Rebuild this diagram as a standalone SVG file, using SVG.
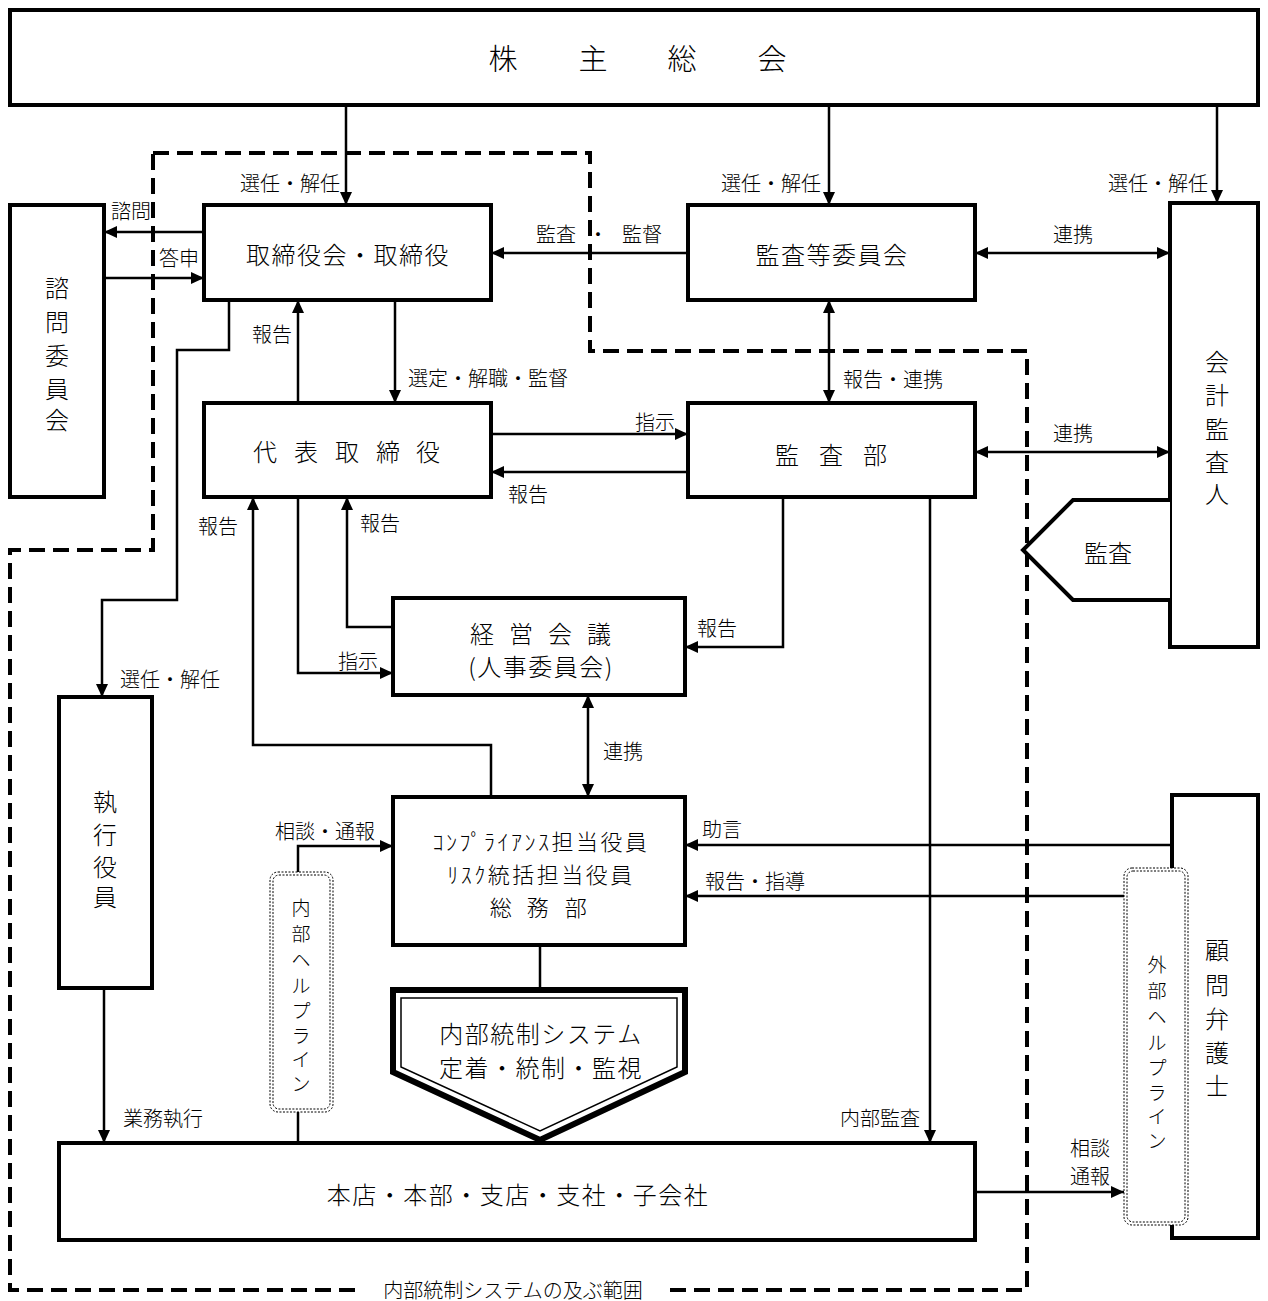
<svg xmlns="http://www.w3.org/2000/svg" width="1268" height="1301" viewBox="0 0 1268 1301">
<style>
text{font-family:"Noto Sans CJK JP","Noto Sans CJK SC",sans-serif;font-weight:300;fill:#000;dominant-baseline:central;text-anchor:middle}
.box{fill:#fff;stroke:#000;stroke-width:4}
.lbl{font-size:20px}
.big{font-size:24px;letter-spacing:1.5px}
.cmp{font-size:22px;letter-spacing:2.5px}
.vbig{font-size:24px}
.vsm{font-size:19px}
.con{fill:none;stroke:#000;stroke-width:2.5}
.arr{marker-end:url(#ah)}
.dbl{marker-start:url(#ah);marker-end:url(#ah)}
.dot{fill:#fff;stroke:#000;stroke-width:1;stroke-dasharray:2 1.5}
.dot2{fill:none;stroke:#000;stroke-width:1;stroke-dasharray:2 1.5}
</style>
<defs>
<marker id="ah" markerUnits="userSpaceOnUse" markerWidth="13" markerHeight="12" refX="13" refY="6" orient="auto-start-reverse">
<path d="M0,0 L13,6 L0,12 z" fill="#000"/>
</marker>
</defs>
<rect width="1268" height="1301" fill="#fff"/>

<g id="range">
<path d="M153,153 H590 V351 H1027 V1290 H670 M355,1290 H10 V550 H153 V153" fill="none" stroke="#000" stroke-width="4" stroke-dasharray="16 8"/>
<text class="lbl" x="513" y="1289">内部統制システムの及ぶ範囲</text>
</g>

<g id="connectors">
<path class="con arr" d="M346,105 V205"/>
<path class="con arr" d="M829,105 V205"/>
<path class="con arr" d="M1217,105 V203"/>
<path class="con arr" d="M204,232 H104"/>
<path class="con arr" d="M104,278 H204"/>
<path class="con arr" d="M688,253 H491"/>
<path class="con dbl" d="M975,253 H1170"/>
<path class="con dbl" d="M829,300 V403"/>
<path class="con dbl" d="M975,452 H1170"/>
<path class="con arr" d="M298,403 V300"/>
<path class="con arr" d="M395,300 V403"/>
<path class="con arr" d="M491,434 H688"/>
<path class="con arr" d="M688,472 H491"/>
<path class="con arr" d="M229,300 V350 H177 V600 H102 V697"/>
<path class="con arr" d="M104,988 V1143"/>
<path class="con arr" d="M491,797 V745 H253 V497"/>
<path class="con arr" d="M393,627 H347 V497"/>
<path class="con arr" d="M298,497 V673 H393"/>
<path class="con arr" d="M783,497 V647 H685"/>
<path class="con dbl" d="M588,695 V797"/>
<path class="con arr" d="M298,872 V846 H393"/>
<path class="con" d="M298,1112 V1143"/>
<path class="con arr" d="M1170,845 H685"/>
<path class="con arr" d="M1124,896 H685"/>
<path class="con" d="M540,945 V990"/>
<path class="con arr" d="M930,497 V1143"/>
<path class="con arr" d="M975,1192 H1124"/>
<text class="lbl" x="290" y="182">選任・解任</text>
<text class="lbl" x="771" y="182">選任・解任</text>
<text class="lbl" x="1158" y="182">選任・解任</text>
<text class="lbl" x="131" y="210">諮問</text>
<text class="lbl" x="179" y="257">答申</text>
<text class="lbl" x="556" y="233">監査</text>
<text class="lbl" x="598" y="233">・</text>
<text class="lbl" x="642" y="233">監督</text>
<text class="lbl" x="1073" y="233">連携</text>
<text class="lbl" x="272" y="333">報告</text>
<text class="lbl" x="488" y="377">選定・解職・監督</text>
<text class="lbl" x="893" y="378">報告・連携</text>
<text class="lbl" x="655" y="421">指示</text>
<text class="lbl" x="1073" y="432">連携</text>
<text class="lbl" x="528" y="493">報告</text>
<text class="lbl" x="218" y="525">報告</text>
<text class="lbl" x="380" y="522">報告</text>
<text class="lbl" x="717" y="627">報告</text>
<text class="lbl" x="358" y="660">指示</text>
<text class="lbl" x="170" y="678">選任・解任</text>
<text class="lbl" x="623" y="750">連携</text>
<text class="lbl" x="325" y="830">相談・通報</text>
<text class="lbl" x="722" y="828">助言</text>
<text class="lbl" x="755" y="880">報告・指導</text>
<text class="lbl" x="163" y="1117">業務執行</text>
<text class="lbl" x="880" y="1117">内部監査</text>
<text class="lbl" x="1090" y="1147">相談</text>
<text class="lbl" x="1090" y="1175">通報</text>
</g>

<g id="shareholders">
<rect class="box" x="10" y="10" width="1248" height="95"/>
<text style="font-size:29px" x="503 593 682 772" y="57">株主総会</text>
</g>

<g id="advisory">
<rect class="box" x="10" y="205" width="94" height="292"/>
<text class="vbig" x="57 57 57 57 57" y="286 320 354 387 418">諮問委員会</text>
</g>

<g id="board">
<rect class="box" x="204" y="205" width="287" height="95"/>
<text class="big" x="348" y="253">取締役会・取締役</text>
</g>

<g id="auditcommittee">
<rect class="box" x="688" y="205" width="287" height="95"/>
<text class="big" x="832" y="253">監査等委員会</text>
</g>

<g id="accountingauditor">
<rect class="box" x="1170" y="203" width="88" height="444"/>
<text class="vbig" x="1217 1217 1217 1217 1217" y="360 393 427 460 492">会計監査人</text>
</g>

<g id="audit">
<path d="M1170,500 H1073 L1023,550 L1073,600 H1170" fill="#fff" stroke="#000" stroke-width="4"/>
<text class="vbig" x="1108" y="551">監査</text>
</g>

<g id="representative">
<rect class="box" x="204" y="403" width="287" height="94"/>
<text class="vbig" x="265 306 347 388 428" y="450">代表取締役</text>
</g>

<g id="auditdept">
<rect class="box" x="688" y="403" width="287" height="94"/>
<text class="vbig" x="787 831 875" y="453">監査部</text>
</g>

<g id="management">
<rect class="box" x="393" y="598" width="292" height="97"/>
<text class="vbig" x="482 521 560 599" y="632">経営会議</text>
<text class="big" x="541" y="665">(人事委員会)</text>
</g>

<g id="executive">
<rect class="box" x="59" y="697" width="93" height="291"/>
<text class="vbig" x="105 105 105 105" y="800 833 865 895">執行役員</text>
</g>

<g id="compliance">
<rect class="box" x="393" y="797" width="292" height="148"/>
<text class="cmp" x="541" y="840">ｺﾝﾌﾟﾗｲｱﾝｽ担当役員</text>
<text class="cmp" x="541" y="873">ﾘｽｸ統括担当役員</text>
<text class="cmp" x="502 539 577" y="906">総務部</text>
</g>

<g id="internalhelpline">
<rect class="dot" x="270" y="872" width="63" height="240" rx="8"/>
<rect class="dot2" x="273" y="875" width="57" height="234" rx="6"/>
<text class="vsm" x="301 301 301 301 301 301 301 301" y="906 932 958 984 1009 1034 1058 1082">内部ヘルプライン</text>
</g>

<g id="system">
<polygon points="393,990 685,990 685,1072 540,1140 393,1072" fill="#fff" stroke="#000" stroke-width="6"/>
<polygon points="401,998 677,998 677,1067 540,1131 401,1067" fill="none" stroke="#000" stroke-width="1.5"/>
<text class="big" x="541" y="1032">内部統制システム</text>
<text class="big" x="541" y="1066">定着・統制・監視</text>
</g>

<g id="lawyer">
<rect class="box" x="1172" y="795" width="86" height="443"/>
<text class="vbig" x="1217 1217 1217 1217 1217" y="948 983 1017 1051 1084">顧問弁護士</text>
</g>

<g id="externalhelpline">
<rect class="dot" x="1124" y="868" width="64" height="357" rx="8"/>
<rect class="dot2" x="1127" y="871" width="58" height="351" rx="6"/>
<text class="vsm" x="1157 1157 1157 1157 1157 1157 1157 1157" y="963 989 1015 1041 1066 1091 1115 1139">外部ヘルプライン</text>
</g>

<g id="offices">
<rect class="box" x="59" y="1143" width="916" height="97"/>
<text class="big" x="518" y="1193">本店・本部・支店・支社・子会社</text>
</g>
</svg>
